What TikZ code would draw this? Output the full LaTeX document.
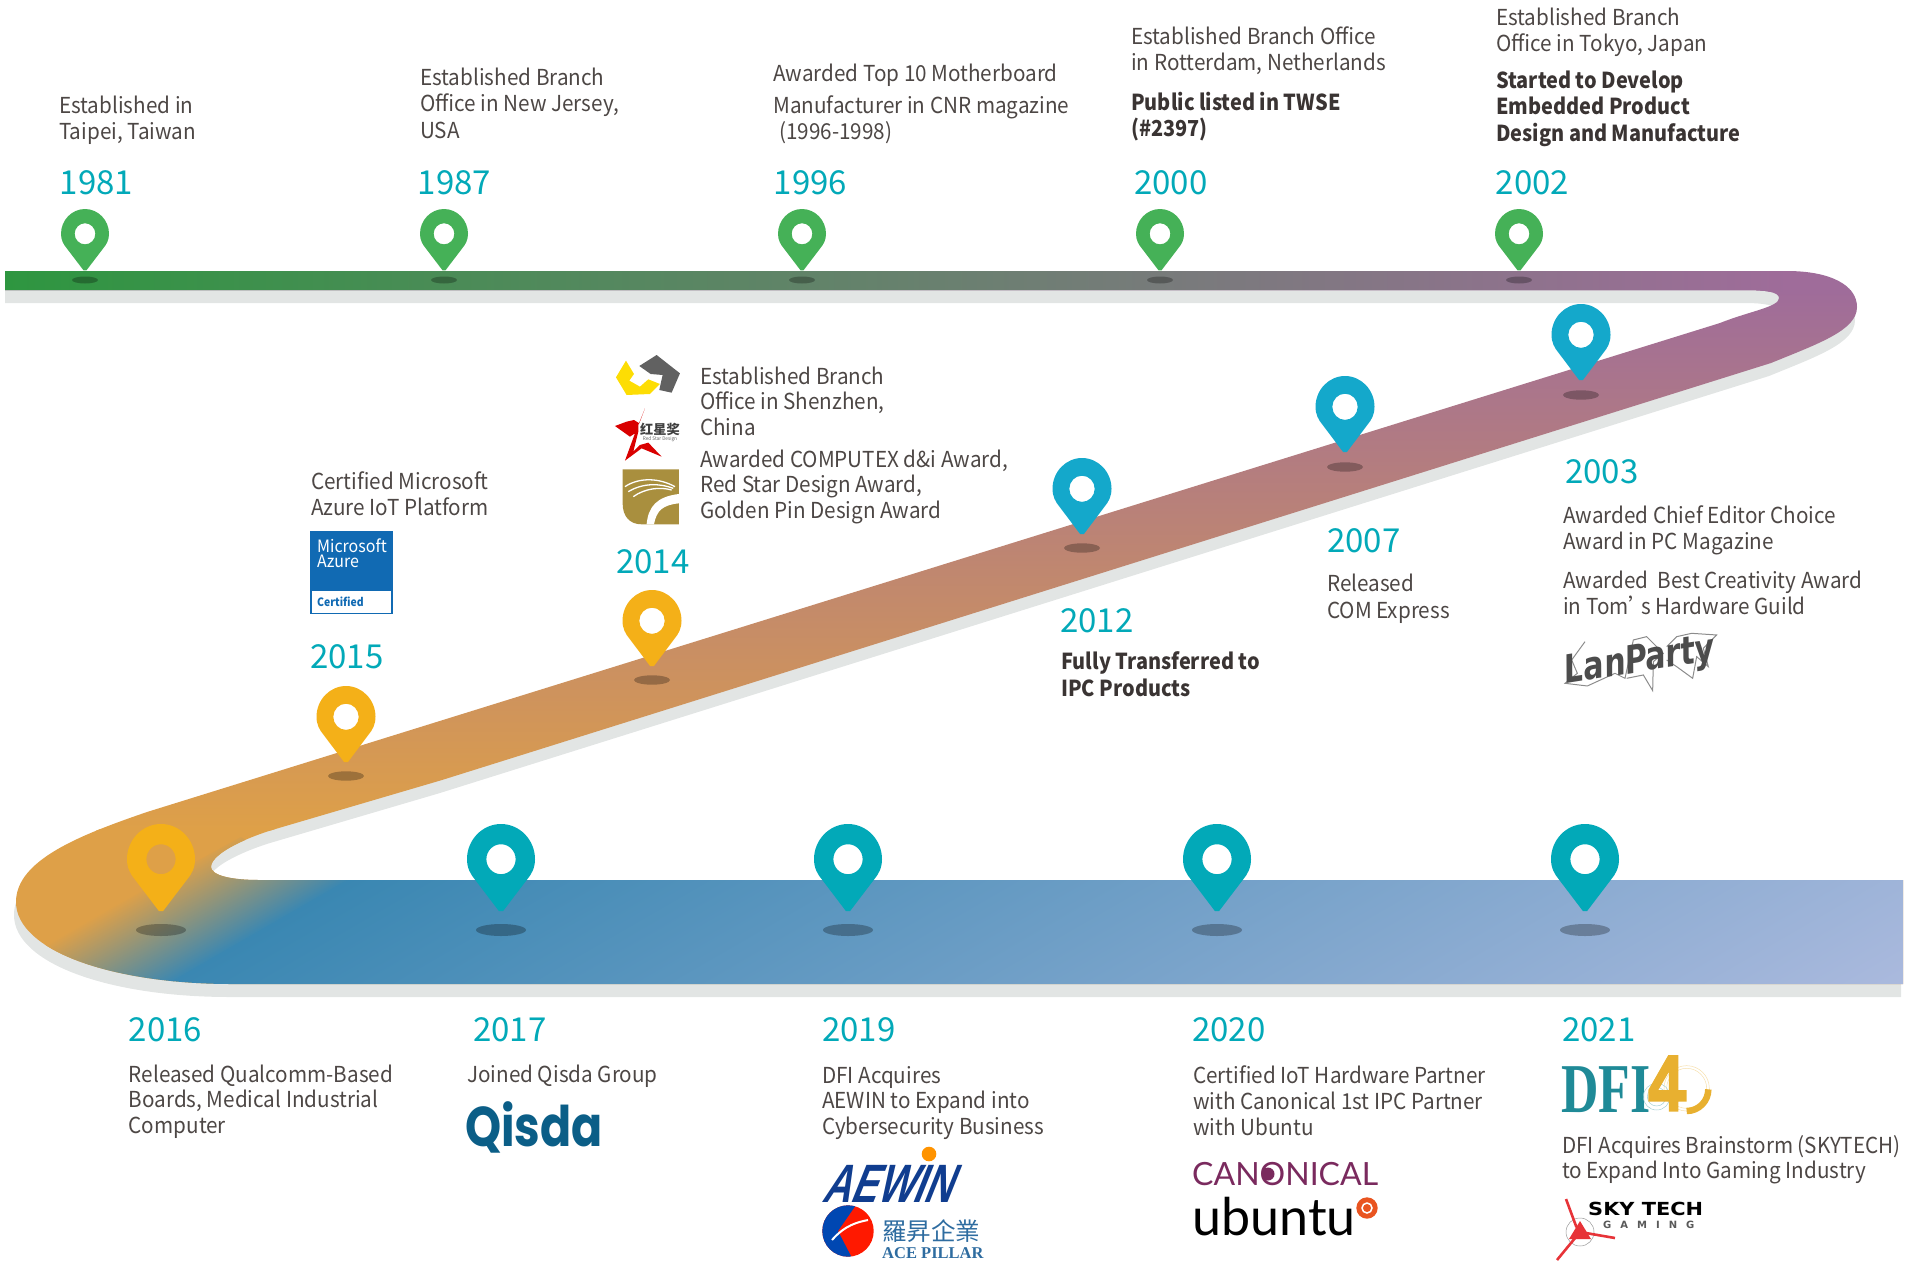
\documentclass[tikz,border=0pt]{standalone}
\usepackage{fontspec}
\usepackage{graphicx}
\setmainfont[FakeStretch=.94]{Noto Sans CJK SC}
\newfontfamily\yearf{Noto Sans CJK SC}
\newfontfamily\medf[BoldFeatures={FakeStretch=.905}]{Noto Sans CJK SC}
\newfontfamily\cjktc{Noto Sans CJK TC}
\newfontfamily\qisdaf{Poppins}
\newfontfamily\latof{Lato}
\newfontfamily\djv{DejaVu Sans}
\newfontfamily\serf{Liberation Serif}
\newfontfamily\aewf[BoldFeatures={FakeSlant=.4,FakeStretch=.72}]{Liberation Sans}
\newfontfamily\gamf[LetterSpace=90]{DejaVu Sans}
\definecolor{bodycol}{HTML}{4D4745}
\definecolor{boldcol}{HTML}{3A3433}
\definecolor{yearcol}{HTML}{02A9B8}
\definecolor{shadowcol}{HTML}{E2E5E4}
\definecolor{rgreen}{HTML}{2E9640}
\definecolor{rpurple}{HTML}{9F6C9A}
\definecolor{rorange}{HTML}{DEA048}
\definecolor{rblue}{HTML}{3A87B2}
\definecolor{rlight}{HTML}{ACBADE}
\definecolor{pingreen}{HTML}{45B157}
\definecolor{pinblue}{HTML}{14A8CB}
\definecolor{pinorange}{HTML}{F4B018}
\definecolor{pinteal}{HTML}{02A9B8}
\definecolor{azure}{HTML}{116AB3}
\definecolor{gold}{HTML}{A98F3E}
\definecolor{dfiteal}{HTML}{1F8A97}
\definecolor{dfigold}{HTML}{E8B030}
\definecolor{qisdacol}{HTML}{0B5E87}
\definecolor{aewcol}{HTML}{103D8F}
\definecolor{acecol}{HTML}{2E6CA0}
\definecolor{cancol}{HTML}{7A2A5E}
\definecolor{ubuor}{HTML}{E95420}
\definecolor{skyred}{HTML}{E73338}
\newcommand\ribbonpath{(5,271) -- (1787,271) .. controls (1830,271) and (1857,285) .. (1857,307)
 .. controls (1857,330) and (1820,343) .. (1771,363) -- (442,780) -- (272,830)
 .. controls (240,840) and (211,855) .. (211,867) .. controls (211,875) and (230,880) .. (259,880)
 -- (1903,880) -- (1903,984) -- (232,984) .. controls (110,984) and (16,950) .. (16,902)
 .. controls (16,860) and (80,835) .. (147,812) -- (1720,323)
 .. controls (1750,311) and (1779,307) .. (1779,298) .. controls (1779,292) and (1765,290) .. (1746,290)
 -- (5,290) -- cycle}
\newcommand\pinmark[5]{\fill[#5,even odd rule,shift={(#1,#2)},xscale=#3/2,yscale=#4]
 (0,0) .. controls (.55,0) and (1,.18) .. (1,.40) .. controls (1,.50) and (.9,.57) .. (.76,.634)
 -- (.06,.99) -- (-.06,.99) -- (-.76,.634) .. controls (-.9,.57) and (-1,.50) .. (-1,.40)
 .. controls (-1,.18) and (-.55,0) .. (0,0) -- cycle
 (0,.40) ellipse [x radius=.43,y radius=.17];}
\newcommand\pinshadow[4]{\fill[black,opacity=.27] (#1,#2) ellipse [x radius=#3,y radius=#4];}
\newcommand\lead{\rule{0pt}{20pt}}
\tikzset{
 bodytxt/.style={anchor=north west,inner sep=0pt,align=left,text=bodycol,font=\fontsize{22}{#1}\selectfont},
 boldtxt/.style={anchor=north west,inner sep=0pt,align=left,text=boldcol,font=\medf\fontsize{22}{#1}\selectfont\bfseries},
 yeartxt/.style={anchor=base west,inner sep=0pt,text=yearcol,font=\yearf\fontsize{33}{33}\selectfont},
 logotxt/.style={anchor=base west,inner sep=0pt}
}
\begin{document}
\begin{tikzpicture}[x=1pt,y=-1pt]
\useasboundingbox (0,0) rectangle (1910,1261);
% ribbon shadow
\begin{scope}
\clip (5,0) rectangle (1903,1261);
\fill[shadowcol,shift={(-2,13)}] \ribbonpath;
\end{scope}
% ribbon
\begin{scope}
\clip \ribbonpath;
\fill[rpurple] (0,260) rectangle (1910,291);
\shade[top color=rpurple,bottom color=rorange] (0,290) rectangle (1910,830);
\fill[rorange] (0,829) rectangle (1910,1000);
\shade[left color=rgreen,right color=rpurple] (5,265) rectangle (1790,291);
\begin{scope}
\clip (0,969) -- (241,837) -- (260,850) -- (300,875) -- (1910,875) -- (1910,1000) -- (0,1000) -- cycle;
\begin{scope}[transform canvas={shift={(58,937)},rotate=-60}]
\shade[left color=rorange,right color=rblue] (0,-2000) rectangle (96,2000);
\shade[left color=rblue,right color=rlight] (95.5,-2000) rectangle (975,2000);
\end{scope}
\end{scope}
\end{scope}
% pin shadows
\pinshadow{85}{280}{13}{3.5}\pinshadow{444}{280}{13}{3.5}\pinshadow{802}{280}{13}{3.5}
\pinshadow{1160}{280}{13}{3.5}\pinshadow{1519}{280}{13}{3.5}
\pinshadow{1581}{395}{18}{4.7}\pinshadow{1345}{467}{18}{4.7}\pinshadow{1082}{548}{18}{4.7}
\pinshadow{652}{680}{18}{4.7}\pinshadow{346}{776}{18}{4.7}
\pinshadow{161}{930}{25}{6}\pinshadow{501}{930}{25}{6}\pinshadow{848}{930}{25}{6}
\pinshadow{1217}{930}{25}{6}\pinshadow{1585}{930}{25}{6}
% pins
\pinmark{85}{209}{48}{62}{pingreen}\pinmark{444}{209}{48}{62}{pingreen}\pinmark{802}{209}{48}{62}{pingreen}
\pinmark{1160}{209}{48}{62}{pingreen}\pinmark{1519}{209}{48}{62}{pingreen}
\pinmark{1581}{304}{59}{77}{pinblue}\pinmark{1345}{376}{59}{77}{pinblue}\pinmark{1082}{458}{59}{77}{pinblue}
\pinmark{652}{590}{59}{77}{pinorange}\pinmark{346}{686}{59}{77}{pinorange}
\pinmark{161}{824}{68}{88}{pinorange}
\pinmark{501}{824}{68}{88}{pinteal}\pinmark{848}{824}{68}{88}{pinteal}
\pinmark{1217}{824}{68}{88}{pinteal}\pinmark{1585}{824}{68}{88}{pinteal}
% years
\node[yeartxt] (y1981) at (59.5,194.5) {1981};
\node[yeartxt] (y1987) at (417.5,194.5) {1987};
\node[yeartxt] (y1996) at (773.5,194.5) {1996};
\node[yeartxt] (y2000) at (1134,194.5) {2000};
\node[yeartxt] (y2002) at (1495.5,194.5) {2002};
\node[yeartxt] (y2003) at (1565,483) {2003};
\node[yeartxt] (y2007) at (1327,552) {2007};
\node[yeartxt] (y2012) at (1060,632) {2012};
\node[yeartxt] (y2014) at (616,573) {2014};
\node[yeartxt] (y2015) at (310,668) {2015};
\node[yeartxt] (y2016) at (128.6,1041) {2016};
\node[yeartxt] (y2017) at (473,1041) {2017};
\node[yeartxt] (y2019) at (822,1041) {2019};
\node[yeartxt] (y2020) at (1192,1041) {2020};
\node[yeartxt] (y2021) at (1562,1041) {2021};
% top texts
\node[bodytxt=26.5] (t1981) at (59,113-20) {\lead Established in\\Taipei, Taiwan};
\node[bodytxt=26.5] (t1987) at (420,85-20) {\lead Established Branch\\Office in New Jersey,\\USA};
\node[bodytxt=26] (t1996a) at (773,81-20) {\lead Awarded Top 10 Motherboard};
\node[bodytxt=26] (t1996b) at (773,113-20) {\lead Manufacturer in CNR magazine\\\hspace*{6pt}(1996-1998)};
\node[bodytxt=26] (t2000a) at (1131,44-20) {\lead Established Branch Office\\in Rotterdam, Netherlands};
\node[boldtxt=26.5] (t2000b) at (1131,110-20) {\lead Public listed in TWSE\\(\#2397)};
\node[bodytxt=26] (t2002a) at (1496,25-20) {\lead Established Branch\\Office in Tokyo, Japan};
\node[boldtxt=26.5] (t2002b) at (1496,88-20) {\lead Started to Develop\\Embedded Product\\Design and Manufacture};
% middle texts
\node[bodytxt=26.5] (t2015) at (311,489-20) {\lead Certified Microsoft\\Azure IoT Platform};
\node[bodytxt=25.5] (t2014a) at (700,384-20) {\lead Established Branch\\Office in Shenzhen,\\China};
\node[bodytxt=25.5] (t2014b) at (700,467-20) {\lead Awarded COMPUTEX d\&i Award,\\Red Star Design Award,\\Golden Pin Design Award};
\node[boldtxt=27] (t2012) at (1061,669-20) {\lead Fully Transferred to\\IPC Products};
\node[bodytxt=27] (t2007) at (1327,591-20) {\lead Released\\COM Express};
\node[bodytxt=26.5] (t2003a) at (1563,523-20) {\lead Awarded Chief Editor Choice\\Award in PC Magazine};
\node[bodytxt=26.5] (t2003b) at (1563,588-20) {\lead Awarded\ \ Best Creativity Award\\in Tom’\hspace{-13pt} s Hardware Guild};
% bottom texts
\node[bodytxt=25.5] (t2016) at (128.6,1082-20) {\lead Released Qualcomm-Based\\Boards, Medical Industrial\\Computer};
\node[bodytxt=25.5] (t2017) at (467,1082-20) {\lead Joined Qisda Group};
\node[bodytxt=25.5] (t2019) at (822,1083-20) {\lead DFI Acquires\\AEWIN to Expand into\\Cybersecurity Business};
\node[bodytxt=26] (t2020) at (1193,1083-20) {\lead Certified IoT Hardware Partner\\with Canonical 1st IPC Partner\\with Ubuntu};
\node[bodytxt=25] (t2021) at (1562,1153-20) {\lead DFI Acquires Brainstorm (SKYTECH)\\to Expand Into Gaming Industry};
% Azure badge
\fill[azure] (310,531) rectangle (393,614);
\fill[white] (312,591) rectangle (391,613);
\node[logotxt,text=white,font=\fontsize{17}{17}\selectfont] (azm) at (317,552) {Microsoft};
\node[logotxt,text=white,font=\fontsize{17}{17}\selectfont] (aza) at (317,567) {Azure};
\node[logotxt,text=azure,font=\medf\fontsize{11.5}{11.5}\selectfont\bfseries] (azc) at (317,606) {Certified};
% 2014 logos, in zoom coordinates
\begin{scope}[shift={(280,340)},x=.3333pt,y=-.3333pt]
\fill[yellow!80!orange] (1008,112) -- (1038,62) -- (1062,102) -- (1048,122) -- (1080,140) -- (1105,118) -- (1140,132) -- (1110,162) -- (1040,165) -- cycle;
\fill[black!62] (1078,78) -- (1130,45) -- (1200,100) -- (1175,158) -- (1138,150) -- (1148,105) -- (1112,102) -- cycle;
\fill[red!85!black] (1095,205) -- (1078,250) -- (1062,240) -- (1040,245) -- (1005,258) -- (1050,290) -- (1065,280) -- (1035,362) -- (1085,325) -- (1145,350) -- (1105,308) -- (1080,315) -- (1060,335) -- (1075,275) -- (1075,255) -- cycle;
\fill[gold] (1028,388) -- (1197,388) -- (1197,553) -- (1085,553) .. controls (1050,553) and (1028,530) .. (1028,490) -- cycle;
\fill[white] (1100,553) .. controls (1105,500) and (1130,470) .. (1197,462) -- (1197,490) .. controls (1150,495) and (1130,510) .. (1122,553) -- cycle;
\draw[white,line width=1.3pt] (1035,440) .. controls (1080,410) and (1140,415) .. (1185,440)
 (1045,455) .. controls (1090,428) and (1140,430) .. (1180,445)
 (1060,470) .. controls (1095,445) and (1140,440) .. (1175,450);
\end{scope}
\node[anchor=center,inner sep=0pt,text=black!75,font=\yearf\fontsize{13.2}{13.2}\selectfont\bfseries] (rs1) at (660,429) {红星奖};
\node[anchor=center,inner sep=0pt,text=black!60,font=\fontsize{5}{5}\selectfont] (rs2) at (660,439.5) {Red Star Design};
% LanParty
\begin{scope}[shift={(1500,440)},x=.3333pt,y=-.3333pt]
\draw[black!45,line width=1pt,line join=miter] (255,605) -- (215,660) -- (232,700) -- (195,730) -- (262,738) -- (345,700) -- (375,715) -- (400,600) -- (440,590) -- (490,640) -- (460,665) -- (458,752) -- (430,705) -- (380,715);
\draw[black!45,line width=1pt] (500,620) -- (530,590) -- (575,580) -- (650,585) -- (610,625) -- (625,680) -- (590,650) -- (578,715) -- (530,680) -- (500,660);
\end{scope}
\node[inner sep=0pt,rotate=9,text=black!70,font=\djv\fontsize{31}{31}\selectfont\bfseries\itshape] (lan) at (1640,662) {\scalebox{.98}[1.25]{LanParty}};
% Qisda
\node[logotxt,text=qisdacol,font=\qisdaf\fontsize{56}{56}\selectfont\bfseries] (qis) at (465,1146) {\scalebox{.82}[1]{Qisda}};
% AEWIN
\fill[orange!85!yellow] (929,1154) circle [radius=7.3];
\node[logotxt,text=aewcol,font=\aewf\fontsize{54}{54}\selectfont\bfseries] (aew) at (821,1202) {AEWIN};
% Ace Pillar
\begin{scope}
\clip (848,1231) circle [radius=25.7];
\fill[red!80!orange] (822,1205) rectangle (875,1258);
\fill[blue!60!cyan!70!black] (822,1205) -- (856,1205) -- (838,1231) -- (852,1258) -- (822,1258) -- cycle;
\draw[white,line width=2pt] (832,1240) .. controls (845,1225) and (858,1222) .. (868,1220);
\end{scope}
\node[anchor=west,inner sep=0pt,text=acecol,font=\cjktc\fontsize{24.5}{24.5}\selectfont] (acec) at (882,1231) {羅昇企業};
\node[logotxt,text=acecol,font=\serf\fontsize{16.5}{16.5}\selectfont\bfseries] (acee) at (882,1258) {ACE PILLAR};
% Canonical, ubuntu
\node[logotxt,text=cancol,font=\latof\fontsize{32}{32}\selectfont] (can) at (1192,1185) {CANONICAL};
\fill[cancol] (1268,1174) circle [radius=6.5];
\node[logotxt,text=black,font=\latof\fontsize{52}{52}\selectfont] (ubu) at (1192,1235) {ubuntu};
\fill[ubuor] (1367,1208) circle [radius=10.7];
\draw[white,line width=1.5pt] (1367,1208) circle [radius=5];
% DFI logo
\node[logotxt,text=dfiteal,font=\serf\fontsize{70}{70}\selectfont\bfseries] (dfi) at (1561,1112) {\scalebox{.74}[1]{DFI}};
\begin{scope}[shift={(1400,1000)},x=.3333pt,y=-.3333pt]
\draw[dfigold!40,line width=.5pt] (860,265) circle [radius=68] (860,265) circle [radius=60];
\draw[dfiteal!40,line width=.5pt] (770,290) circle [radius=40] (770,290) circle [radius=28];
\fill[dfigold,even odd rule] (805,165) -- (835,165) -- (835,270) -- (860,270) -- (860,305) -- (835,305) -- (835,335) -- (807,335) -- (807,305) -- (745,305) -- (745,270) -- cycle
 (807,215) -- (807,270) -- (775,270) -- cycle;
\draw[dfigold,line width=6.5pt] (925,268) arc [start angle=0,end angle=90,radius=65];
\end{scope}
% Skytech
\node[logotxt,text=black,font=\djv\fontsize{18}{18}\selectfont\bfseries] (sky) at (1588,1215) {\scalebox{1.16}[1]{SKY TECH}};
\node[logotxt,text=black!65,font=\gamf\fontsize{10}{10}\selectfont\bfseries] (gam) at (1603,1228) {GAMING};
\draw[black!40,line width=.5pt] (1580,1232) circle [radius=14];
\draw[skyred,line width=2.6pt] (1566,1199) -- (1576,1226) -- (1580,1232) -- (1615,1238) (1580,1232) -- (1557,1260);
\fill[skyred] (1580,1221) -- (1591,1239) -- (1569,1239) -- cycle;
\end{tikzpicture}
\end{document}
